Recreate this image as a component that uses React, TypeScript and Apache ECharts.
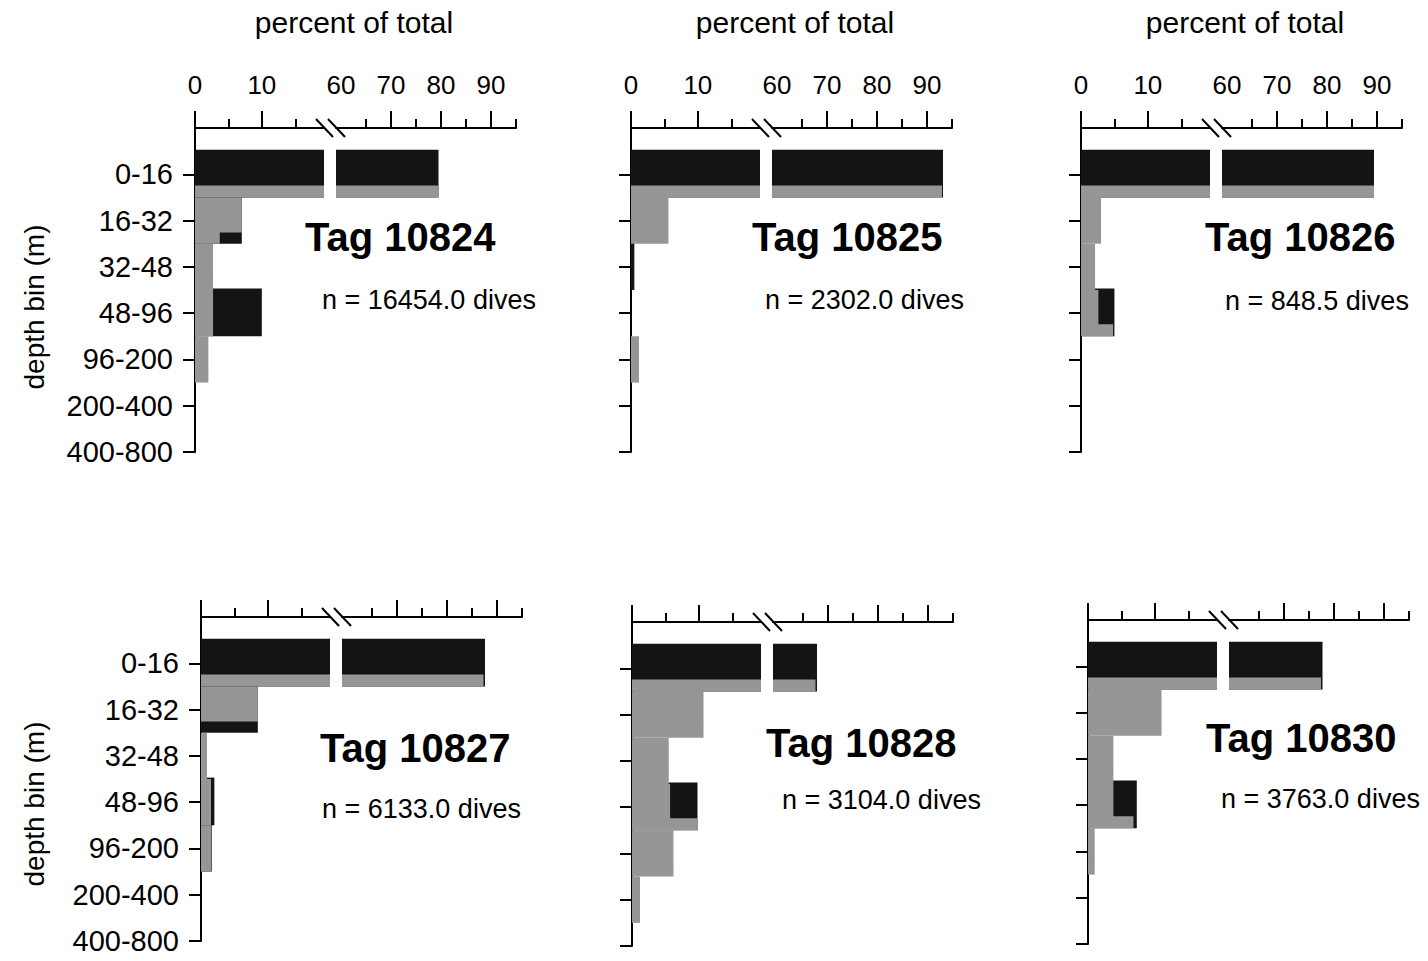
import React, { useEffect, useRef } from 'react';
import * as echarts from 'echarts';

// ---------- data ----------
const depthBins = ['0-16', '16-32', '32-48', '48-96', '96-200', '200-400', '400-800'];
const tagNames = ['Tag 10824', 'Tag 10825', 'Tag 10826', 'Tag 10827', 'Tag 10828', 'Tag 10830'];
const diveCounts = ['n = 16454.0 dives', 'n = 2302.0 dives', 'n = 848.5 dives', 'n = 6133.0 dives', 'n = 3104.0 dives', 'n = 3763.0 dives'];

// dark bars (full bin height, behind)
const dark10824 = [79.5, 7.0, 0, 10.0, 0, 0, 0];
const dark10825 = [93.2, 0, 0.5, 0, 0, 0, 0];
const dark10826 = [89.4, 0, 0, 5.0, 0, 0, 0];
const dark10827 = [87.6, 8.5, 0, 2.0, 1.6, 0, 0];
const dark10828 = [67.8, 0, 0, 9.8, 0, 0, 0];
const dark10830 = [77.7, 0, 0, 7.3, 0, 0, 0];

// stippled grey bars, upper part of the bin (in front)
const grey10824 = [0, 7.0, 2.7, 2.7, 2.0, 0, 0];
const grey10825 = [0, 5.6, 0, 0, 1.2, 0, 0];
const grey10826 = [0, 3.0, 2.1, 2.6, 0, 0, 0];
const grey10827 = [0, 8.5, 0.9, 1.5, 1.5, 0, 0];
const grey10828 = [0, 10.7, 5.5, 5.7, 6.2, 1.2, 0];
const grey10830 = [0, 11.0, 3.8, 3.8, 1.0, 0, 0];

// stippled grey bars, lower strip of the bin (in front)
const strip10824 = [79.5, 3.7, 2.7, 2.7, 2.0, 0, 0];
const strip10825 = [93.0, 5.6, 0, 0, 1.2, 0, 0];
const strip10826 = [89.4, 3.0, 2.1, 4.8, 0, 0, 0];
const strip10827 = [87.3, 0, 0.9, 1.5, 1.5, 0, 0];
const strip10828 = [67.5, 10.7, 5.5, 9.8, 6.2, 1.2, 0];
const strip10830 = [77.4, 11.0, 3.8, 6.8, 1.0, 0, 0];

const leftMajorTicks = [0, 10];
const leftMinorTicks = [5, 15];
const rightMajorTicks = [70, 80, 90];
const rightMinorTicks = [65, 75, 85, 95];
const leftTickLabels = [0, 10];
const rightTickLabels = [60, 70, 80, 90];

// ---------- layout ----------
const FONT = '"Liberation Sans", Arial, sans-serif';
const panelPos = [
  { x0: 195, top: 128 },
  { x0: 631, top: 128 },
  { x0: 1081, top: 128 },
  { x0: 201, top: 617 },
  { x0: 632, top: 622 },
  { x0: 1088, top: 620 },
];
const tagPos = [
  [305, 237], [752, 237], [1205, 237], [320, 748], [766, 743], [1206, 738],
];
const nPos = [
  [322, 300], [765, 300], [1225, 301], [322, 809], [782, 800], [1221, 799],
];
const LEFT_MIN = 0, LEFT_MAX = 19.3, LEFT_W = 129;
const RIGHT_MIN = 59, RIGHT_MAX = 95, RIGHT_OFF = 141, RIGHT_W = 180;
const PLOT_H = 324;

const DARK = '#141414';
const GREY = '#969696';

const panelData = [
  [dark10824, grey10824, strip10824],
  [dark10825, grey10825, strip10825],
  [dark10826, grey10826, strip10826],
  [dark10827, grey10827, strip10827],
  [dark10828, grey10828, strip10828],
  [dark10830, grey10830, strip10830],
];

// vertical extent of each layer relative to the bin centre (in bin units)
const layerBand = [
  [-0.53, 0.5],
  [-0.5, 0.26],
  [0.24, 0.5],
];
const layerFill = [DARK, GREY, GREY];

function makeRender(base: number, y0: number, y1: number, fill: string) {
  return (params: any, api: any) => {
    const v = api.value(0);
    const k = api.value(1);
    if (!(v > base)) return null;
    const p0 = api.coord([base, k + y0]);
    const p1 = api.coord([v, k + y1]);
    const cs = params.coordSys;
    const rect = echarts.graphic.clipRectByRect(
      { x: p0[0], y: p0[1], width: p1[0] - p0[0], height: p1[1] - p0[1] },
      { x: cs.x, y: cs.y, width: cs.width, height: cs.height }
    );
    if (!rect) return null;
    return { type: 'rect', shape: rect, style: { fill } };
  };
}

function buildOption() {
  const grid: any[] = [];
  const xAxis: any[] = [];
  const yAxis: any[] = [];
  const series: any[] = [];
  const graphic: any[] = [];
  const line = { color: '#000', width: 2 };

  panelPos.forEach((p, i) => {
    const topRow = i < 3;
    const firstCol = i % 3 === 0;
    for (let side = 0; side < 2; side++) {
      const g = grid.length;
      const isLeft = side === 0;
      grid.push({
        left: isLeft ? p.x0 : p.x0 + RIGHT_OFF,
        top: p.top,
        width: isLeft ? LEFT_W : RIGHT_W,
        height: PLOT_H,
      });
      const min = isLeft ? LEFT_MIN : RIGHT_MIN;
      const max = isLeft ? LEFT_MAX : RIGHT_MAX;
      const xMain = xAxis.length;
      xAxis.push({
        gridIndex: g, type: 'value', position: 'top', min, max,
        axisLine: { show: true, onZero: false, lineStyle: line },
        axisTick: { show: true, customValues: isLeft ? leftMajorTicks : rightMajorTicks, length: 17, lineStyle: line },
        axisLabel: {
          show: topRow, customValues: isLeft ? leftTickLabels : rightTickLabels,
          margin: 30, color: '#000', fontSize: 26, fontFamily: FONT,
        },
        splitLine: { show: false },
      });
      xAxis.push({
        gridIndex: g, type: 'value', position: 'top', min, max,
        axisLine: { show: false, onZero: false },
        axisTick: { show: true, customValues: isLeft ? leftMinorTicks : rightMinorTicks, length: 9, lineStyle: line },
        axisLabel: { show: false },
        splitLine: { show: false },
      });
      yAxis.push({
        gridIndex: g, type: 'value', min: -1, max: 6, inverse: true, show: isLeft,
        axisLine: { show: true, onZero: false, lineStyle: line },
        axisTick: { show: true, customValues: [0, 1, 2, 3, 4, 5, 6], length: 12, lineStyle: line },
        axisLabel: {
          show: firstCol, customValues: [0, 1, 2, 3, 4, 5, 6],
          formatter: (v: number) => depthBins[Math.round(v)] ?? '',
          margin: 22, color: '#000', fontSize: 29, fontFamily: FONT,
        },
        splitLine: { show: false },
      });
      panelData[i].forEach((arr, layer) => {
        series.push({
          type: 'custom',
          xAxisIndex: xMain,
          yAxisIndex: g,
          z: 2 + (layer > 0 ? 1 : 0),
          renderItem: makeRender(min, layerBand[layer][0], layerBand[layer][1], layerFill[layer]),
          encode: { x: 0, y: 1 },
          data: arr.map((v, k) => [v, k]),
          silent: true,
        });
      });
    }
    // axis break marks
    [129.5, 141.5].forEach((dx) => {
      graphic.push({
        type: 'line', silent: true,
        shape: { x1: p.x0 + dx - 8.5, y1: p.top - 9, x2: p.x0 + dx + 8.5, y2: p.top + 9 },
        style: { stroke: '#000', lineWidth: 2 },
      });
    });
    graphic.push({
      type: 'text', x: tagPos[i][0], y: tagPos[i][1], silent: true,
      style: { text: tagNames[i], font: `bold 40px ${FONT}`, fill: '#000', textAlign: 'left', textVerticalAlign: 'middle', align: 'left', verticalAlign: 'middle' },
    });
    graphic.push({
      type: 'text', x: nPos[i][0], y: nPos[i][1], silent: true,
      style: { text: diveCounts[i], font: `27px ${FONT}`, fill: '#000', textAlign: 'left', textVerticalAlign: 'middle', align: 'left', verticalAlign: 'middle' },
    });
  });

  [354, 795, 1245].forEach((x) => {
    graphic.push({
      type: 'text', x, y: 22, silent: true,
      style: { text: 'percent of total', font: `30px ${FONT}`, fill: '#000', textAlign: 'center', textVerticalAlign: 'middle', align: 'center', verticalAlign: 'middle' },
    });
  });
  [307, 804].forEach((y) => {
    graphic.push({
      type: 'text', x: 34, y, rotation: Math.PI / 2, silent: true,
      style: { text: 'depth bin (m)', font: `28px ${FONT}`, fill: '#000', textAlign: 'center', textVerticalAlign: 'middle', align: 'center', verticalAlign: 'middle' },
    });
  });

  return {
    animation: false,
    backgroundColor: '#ffffff',
    textStyle: { fontFamily: FONT },
    grid, xAxis, yAxis, series, graphic,
  };
}

export default function App() {
  const ref = useRef<HTMLDivElement>(null);
  useEffect(() => {
    if (!ref.current) return;
    const chart = echarts.init(ref.current, undefined, { renderer: 'svg' });
    chart.setOption(buildOption() as any);
    return () => chart.dispose();
  }, []);
  return (
    <div
      ref={ref}
      style={{ position: 'absolute', left: 0, top: 0, width: 1428, height: 961, background: '#fff' }}
    />
  );
}
